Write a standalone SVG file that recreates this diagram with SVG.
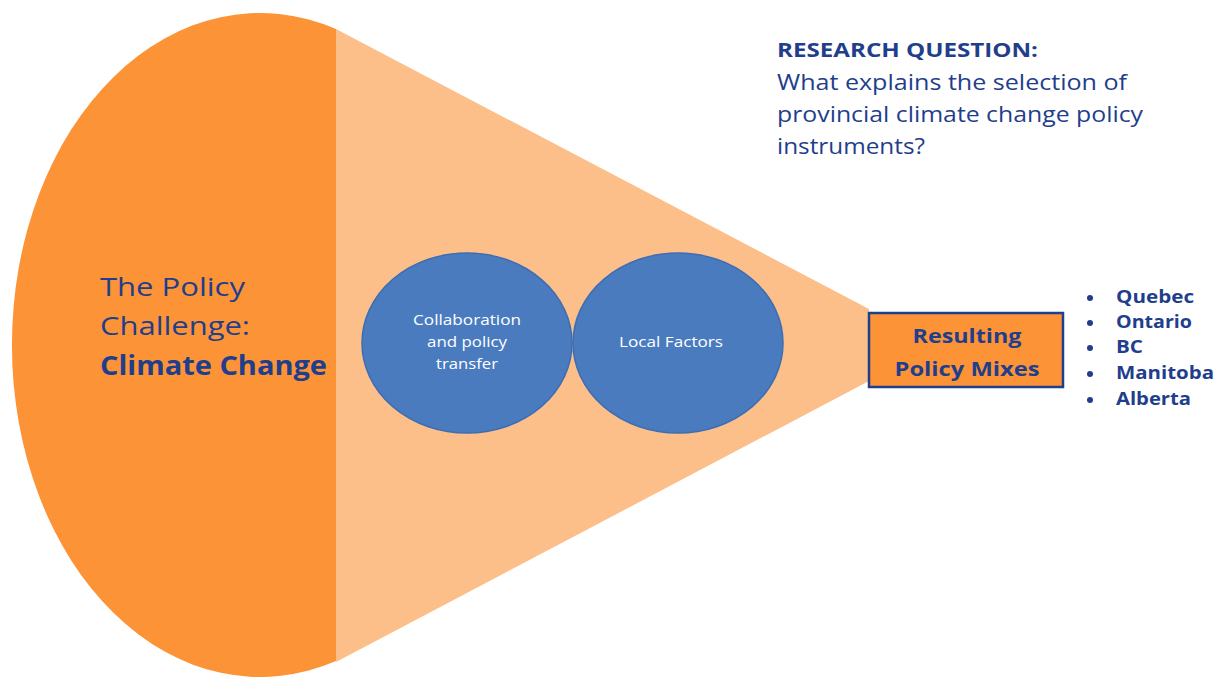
<svg xmlns="http://www.w3.org/2000/svg" width="1220" height="677" viewBox="0 0 1220 677">
<defs>
<style>
.t{font-family:"Open Sans",Lato,"Liberation Sans",sans-serif;fill:#1f3e8c}
.b{font-weight:bold}
.w{font-family:"Open Sans",Lato,"Liberation Sans",sans-serif;fill:#ffffff;font-size:15px;text-anchor:middle}
.circle{fill:#4a7bbf;stroke:#3d6db3;stroke-width:1.5}
</style>
</defs>
<rect width="1220" height="677" fill="#ffffff"/>
<g id="cone">
<polygon points="336,29 869,309 869,381 336,662" fill="#fdbf8a"/>
</g>
<g id="challenge">
<path d="M336,29 A248,332 0 1 0 336,661 Z" fill="#fd9337"/>
<text class="t" font-size="26" x="100" y="296" textLength="145" lengthAdjust="spacingAndGlyphs">The Policy</text>
<text class="t" font-size="26" x="100" y="335" textLength="150" lengthAdjust="spacingAndGlyphs">Challenge:</text>
<text class="t b" font-size="26" x="100" y="375" textLength="227" lengthAdjust="spacingAndGlyphs">Climate Change</text>
</g>
<g id="collab">
<ellipse class="circle" cx="467" cy="343" rx="105" ry="90"/>
<text class="w" x="467" y="325" textLength="108" lengthAdjust="spacingAndGlyphs">Collaboration</text>
<text class="w" x="467" y="347" textLength="80" lengthAdjust="spacingAndGlyphs">and policy</text>
<text class="w" x="467" y="369" textLength="62" lengthAdjust="spacingAndGlyphs">transfer</text>
</g>
<g id="local">
<ellipse class="circle" cx="678" cy="343" rx="105" ry="90"/>
<text class="w" x="671" y="347" textLength="104" lengthAdjust="spacingAndGlyphs">Local Factors</text>
</g>
<g id="connectors"></g>
<g id="result">
<rect x="869" y="313" width="194" height="74" fill="#fd9337" stroke="#1f3e8c" stroke-width="2.5"/>
<text class="t b" font-size="20" x="967" y="343" text-anchor="middle" textLength="109" lengthAdjust="spacingAndGlyphs">Resulting</text>
<text class="t b" font-size="20" x="967" y="376" text-anchor="middle" textLength="145" lengthAdjust="spacingAndGlyphs">Policy Mixes</text>
</g>
<g id="provinces">
<g fill="#1f3e8c">
<circle cx="1090" cy="298" r="3"/>
<circle cx="1090" cy="323" r="3"/>
<circle cx="1090" cy="348" r="3"/>
<circle cx="1090" cy="374" r="3"/>
<circle cx="1090" cy="400" r="3"/>
</g>
<text class="t b" font-size="17" x="1116" y="303" textLength="78" lengthAdjust="spacingAndGlyphs">Quebec</text>
<text class="t b" font-size="17" x="1116" y="328" textLength="76" lengthAdjust="spacingAndGlyphs">Ontario</text>
<text class="t b" font-size="17" x="1116" y="353" textLength="27" lengthAdjust="spacingAndGlyphs">BC</text>
<text class="t b" font-size="17" x="1116" y="379" textLength="98" lengthAdjust="spacingAndGlyphs">Manitoba</text>
<text class="t b" font-size="17" x="1116" y="405" textLength="75" lengthAdjust="spacingAndGlyphs">Alberta</text>
</g>
<g id="question">
<text class="t b" font-size="20" x="777" y="57" textLength="261" lengthAdjust="spacingAndGlyphs">RESEARCH QUESTION:</text>
<text class="t" font-size="21" x="777" y="90" textLength="350" lengthAdjust="spacingAndGlyphs">What explains the selection of</text>
<text class="t" font-size="21" x="777" y="122" textLength="366" lengthAdjust="spacingAndGlyphs">provincial climate change policy</text>
<text class="t" font-size="21" x="777" y="154" textLength="148" lengthAdjust="spacingAndGlyphs">instruments?</text>
</g>
</svg>
